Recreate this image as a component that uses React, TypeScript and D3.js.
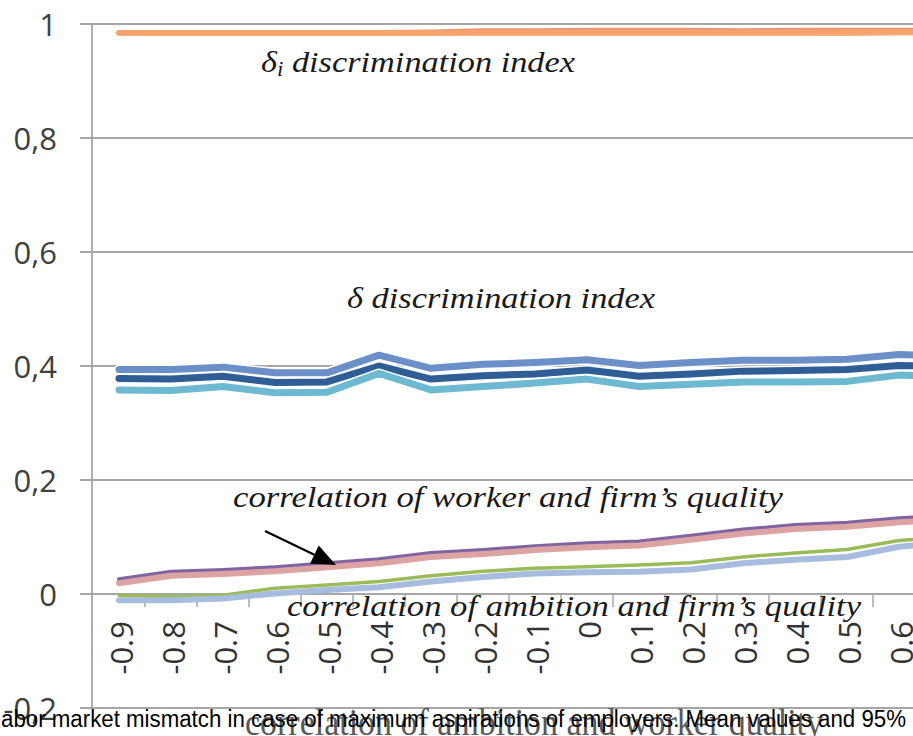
import React from "react";
import * as d3 from "d3";

const categories = ["-0.9","-0.8","-0.7","-0.6","-0.5","-0.4","-0.3","-0.2","-0.1","0","0.1","0.2","0.3","0.4","0.5","0.6","0.7","0.8","0.9"];
const yTicks = [-0.2, 0, 0.2, 0.4, 0.6, 0.8, 1];

const deltaIUpper = [0.985,0.985,0.985,0.985,0.985,0.986,0.987,0.989,0.989,0.99,0.99,0.99,0.989,0.99,0.99,0.99,0.99,0.99,0.99];
const deltaIMean = [0.985,0.985,0.985,0.985,0.985,0.985,0.985,0.986,0.986,0.986,0.986,0.986,0.986,0.986,0.987,0.987,0.987,0.987,0.987];
const deltaILower = [0.984,0.984,0.984,0.984,0.984,0.984,0.984,0.984,0.984,0.984,0.984,0.984,0.984,0.984,0.984,0.985,0.985,0.985,0.985];

const deltaUpper = [0.394,0.394,0.398,0.388,0.388,0.419,0.396,0.403,0.406,0.411,0.401,0.406,0.410,0.410,0.412,0.420,0.418,0.415,0.420];
const deltaMean = [0.378,0.377,0.382,0.371,0.372,0.400,0.377,0.383,0.386,0.393,0.382,0.386,0.391,0.392,0.394,0.401,0.399,0.396,0.400];
const deltaLower = [0.358,0.357,0.364,0.353,0.354,0.387,0.358,0.364,0.370,0.377,0.364,0.368,0.372,0.372,0.373,0.384,0.381,0.378,0.382];

const workerFirmUpper = [0.026,0.039,0.042,0.047,0.054,0.061,0.072,0.077,0.084,0.089,0.092,0.102,0.113,0.121,0.125,0.133,0.137,0.141,0.145];
const workerFirmMean = [0.019,0.032,0.035,0.040,0.047,0.054,0.065,0.070,0.077,0.082,0.085,0.095,0.106,0.114,0.118,0.126,0.130,0.134,0.138];

const ambitionFirmUpper = [-0.002,-0.005,-0.002,0.010,0.016,0.022,0.032,0.040,0.045,0.048,0.051,0.055,0.065,0.072,0.078,0.094,0.100,0.105,0.110];
const ambitionFirmMean = [-0.011,-0.011,-0.008,0.001,0.007,0.012,0.022,0.030,0.036,0.038,0.039,0.043,0.054,0.060,0.065,0.083,0.090,0.095,0.100];

const W = 913;
const H = 736;

const x = d3.scaleBand<string>().domain(categories).range([93, 93 + 52 * categories.length]).padding(0);
const y = d3.scaleLinear().domain([-0.2, 1]).range([708, 24]);
const cx = (c: string) => (x(c) as number) + x.bandwidth() / 2;

const lineGen = d3.line<number>()
  .x((_, i) => cx(categories[i]))
  .y((d) => y(d));

type S = { data: number[]; color: string; width: number; halo?: boolean };

const series: S[] = [
  { data: deltaILower, color: "#F7AE7C", width: 6 },
  { data: deltaIUpper, color: "#E99276", width: 4 },
  { data: deltaIMean, color: "#F5A26D", width: 5 },
  { data: deltaUpper, color: "#6B8FC8", width: 7, halo: true },
  { data: deltaMean, color: "#2F5D96", width: 7, halo: true },
  { data: deltaLower, color: "#6DB9D1", width: 7, halo: true },
  { data: workerFirmUpper, color: "#8064A2", width: 4 },
  { data: workerFirmMean, color: "#DDA3A2", width: 6 },
  { data: ambitionFirmUpper, color: "#9BBB59", width: 3.5 },
  { data: ambitionFirmMean, color: "#A7BDE0", width: 6 },
];

const fmtY = (v: number) => (Math.abs(v) < 1e-9 ? "0" : String(+v.toFixed(1)).replace(".", ","));

const gridColor = "#A6A6A6";
const labelColor = "#404040";
const serifItalic = { fontFamily: "'Liberation Serif', 'DejaVu Serif', serif", fontStyle: "italic" as const };

// arrow annotation geometry
const arrowStart: [number, number] = [265, 531];
const arrowTip: [number, number] = [336, 565];
const arrowLen = Math.hypot(arrowTip[0] - arrowStart[0], arrowTip[1] - arrowStart[1]);
const ux = (arrowTip[0] - arrowStart[0]) / arrowLen;
const uy = (arrowTip[1] - arrowStart[1]) / arrowLen;
const headL = 24;
const headW = 10;
const baseC: [number, number] = [arrowTip[0] - ux * headL, arrowTip[1] - uy * headL];
const headPts = [
  arrowTip,
  [baseC[0] - uy * headW, baseC[1] + ux * headW],
  [baseC[0] + uy * headW, baseC[1] - ux * headW],
].map((p) => p.join(",")).join(" ");

export default function App() {
  const xAxisY = y(0);
  const boundaries = categories.map((c) => x(c) as number).slice(1);
  return (
    <svg
      width={W}
      height={H}
      viewBox={`0 0 ${W} ${H}`}
      style={{ position: "absolute", left: 0, top: 0, background: "#fff", overflow: "hidden" }}
    >
      <rect x={0} y={0} width={W} height={H} fill="#fff" />

      {/* grid lines */}
      {yTicks.map((t) => (
        <line key={"g" + t} x1={80} x2={W + 200} y1={y(t)} y2={y(t)} stroke={gridColor} strokeWidth={1.8} />
      ))}
      {/* y axis line */}
      <line x1={92} x2={92} y1={y(1)} y2={y(-0.2)} stroke={gridColor} strokeWidth={1.8} />
      {/* y tick labels */}
      {yTicks.map((t) => (
        <text
          key={"yl" + t}
          x={57}
          y={y(t)}
          textAnchor="end"
          dominantBaseline="central"
          fontFamily="'Open Sans', 'Liberation Sans', sans-serif"
          fontSize={31}
          fill={labelColor}
        >
          {fmtY(t)}
        </text>
      ))}

      {/* x axis */}
      <line x1={92} x2={W + 200} y1={xAxisY} y2={xAxisY} stroke={gridColor} strokeWidth={1.8} />
      {boundaries.map((b, i) => (
        <line key={"xt" + i} x1={b} x2={b} y1={xAxisY} y2={xAxisY + 13} stroke={gridColor} strokeWidth={1.5} />
      ))}
      {categories.map((c) => (
        <text
          key={"xl" + c}
          transform={`translate(${cx(c) + 2},621) rotate(-90)`}
          textAnchor="end"
          dominantBaseline="central"
          fontFamily="'Open Sans', 'Liberation Sans', sans-serif"
          fontSize={31}
          fill="#333"
        >
          {c}
        </text>
      ))}

      {/* series */}
      {series.map((s, i) => (
        <g key={"s" + i}>
          {s.halo && (
            <path d={lineGen(s.data) || ""} fill="none" stroke="#fff" strokeWidth={s.width + 3} strokeLinejoin="round" strokeLinecap="round" />
          )}
          <path d={lineGen(s.data) || ""} fill="none" stroke={s.color} strokeWidth={s.width} strokeLinejoin="round" strokeLinecap="round" />
        </g>
      ))}

      {/* annotations */}
      <text x={261} y={72} fontSize={30} fill="#1a1a1a" {...serifItalic} textLength={314} lengthAdjust="spacingAndGlyphs">
        δ<tspan fontSize={20} dy={4}>i</tspan>
        <tspan dy={-4}> discrimination index</tspan>
      </text>
      <text x={347} y={308} fontSize={30} fill="#1a1a1a" {...serifItalic} textLength={308} lengthAdjust="spacingAndGlyphs">
        δ discrimination index
      </text>
      <text x={233} y={507} fontSize={30} fill="#1a1a1a" {...serifItalic} textLength={550} lengthAdjust="spacingAndGlyphs">
        correlation of worker and firm’s quality
      </text>
      <text x={287} y={616} fontSize={30} fill="#1a1a1a" {...serifItalic} textLength={574} lengthAdjust="spacingAndGlyphs">
        correlation of ambition and firm’s quality
      </text>
      <line x1={arrowStart[0]} y1={arrowStart[1]} x2={baseC[0]} y2={baseC[1]} stroke="#000" strokeWidth={2.2} />
      <polygon points={headPts} fill="#000" />

      {/* x axis title (partially hidden) */}
      <text
        x={245}
        y={735}
        fontFamily="'Liberation Serif', 'DejaVu Serif', serif"
        fontSize={38}
        fill="#595959"
        textLength={578}
        lengthAdjust="spacingAndGlyphs"
      >
        correlation of ambition and worker quality
      </text>

      {/* caption overlay */}
      <text
        x={1}
        y={727}
        fontFamily="'Liberation Sans', Arial, sans-serif"
        fontSize={23}
        fill="#000"
        textLength={905}
        lengthAdjust="spacingAndGlyphs"
      >
        abor market mismatch in case of maximum aspirations of employers. Mean values and 95%
      </text>
    </svg>
  );
}
